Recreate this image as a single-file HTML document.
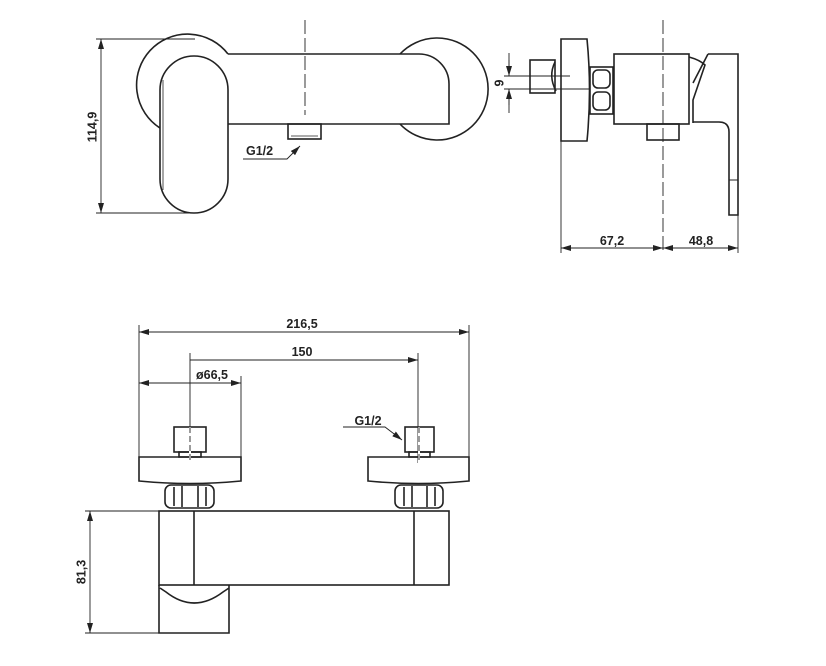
<!DOCTYPE html>
<html><head><style>html,body{margin:0;padding:0;background:#fff}svg{display:block}</style></head>
<body>
<svg width="826" height="666" viewBox="0 0 826 666" xmlns="http://www.w3.org/2000/svg" font-family="Liberation Sans, sans-serif">
<defs>
<marker id="a" viewBox="0 0 10 6" refX="10" refY="3" markerWidth="10" markerHeight="6" orient="auto-start-reverse" markerUnits="userSpaceOnUse"><path d="M0,0 L10,3 L0,6 z" fill="#222"/></marker>
</defs>
<g fill="none" stroke="#222" stroke-width="1.6">
<path d="M228,54 A51,51 0 1 0 160,128"/>
<path d="M400,54 A51,51 0 1 1 400,124"/>
<path d="M228,54 H419 A30,30 0 0 1 449,84 V124 H228" fill="#fff"/>
<rect x="160" y="56" width="68" height="157" rx="34" fill="#fff"/>
<path d="M163,80 V190" stroke-width="0.8"/>
<rect x="288" y="124" width="33" height="15"/>
<path d="M291,136 H318" stroke-width="0.8"/>
</g>
<g stroke="#222" stroke-width="0.9" fill="none">
<path d="M305,20 V115" stroke-dasharray="14,4"/>
<path d="M101,39 V213" marker-start="url(#a)" marker-end="url(#a)"/>
<path d="M96,39 H195 M96,213 H195"/>
<path d="M243,159 H287 L300,146" marker-end="url(#a)"/>
</g>
<text x="93" y="127" font-size="12.5" font-weight="bold" text-anchor="middle" transform="rotate(-90 93 127)" fill="#222" dominant-baseline="middle">114,9</text>
<text x="246" y="155" font-size="12.5" font-weight="bold" fill="#222">G1/2</text>

<g fill="none" stroke="#222" stroke-width="1.6">
<path d="M561,39 H587 Q592,90 587,141 H561 Z"/>
<rect x="530" y="60" width="25" height="33"/>
<path d="M555,62 Q548,76 556,91"/>
<rect x="590" y="67" width="23" height="47"/>
<rect x="593" y="70" width="17" height="18" rx="5"/>
<rect x="593" y="92" width="17" height="18" rx="5"/>
<rect x="614" y="54" width="75" height="70"/>
<rect x="647" y="124" width="32" height="16"/>
<path d="M689,57 Q700,60 705,65 L693,100 V123 M708,54 L693,83"/>
<path d="M708,54 H738 V215 H729 V132 Q729,122 719,122 H693"/>
<path d="M729,180 H738" stroke-width="1"/>
</g>
<g stroke="#222" stroke-width="0.9" fill="none">
<path d="M663,20 V252" stroke-dasharray="14,4"/>
<path d="M509,53 V76 M509,89 V113" />
<path d="M509,60 V76" marker-end="url(#a)"/>
<path d="M509,105 V89" marker-end="url(#a)"/>
<path d="M504,76 H570 M504,89 H590"/>
<path d="M561,141 V253 M738,215 V253"/>
<path d="M561,248 H663" marker-start="url(#a)" marker-end="url(#a)"/>
<path d="M663,248 H738" marker-start="url(#a)" marker-end="url(#a)"/>
</g>
<text x="500" y="83" font-size="12.5" font-weight="bold" text-anchor="middle" transform="rotate(-90 500 83)" fill="#222" dominant-baseline="middle">9</text>
<text x="612" y="245" font-size="12.5" font-weight="bold" text-anchor="middle" fill="#222">67,2</text>
<text x="701" y="245" font-size="12.5" font-weight="bold" text-anchor="middle" fill="#222">48,8</text>

<g fill="none" stroke="#222" stroke-width="1.6">
<path d="M139,457 H241 V481 Q190,486 139,481 Z"/>
<path d="M368,457 H469 V481 Q418,486 368,481 Z"/>
<rect x="174" y="427" width="32" height="25"/>
<rect x="179" y="452" width="22" height="5"/>
<rect x="405" y="427" width="29" height="25"/>
<rect x="409" y="452" width="21" height="5"/>
<rect x="165" y="485" width="49" height="23" rx="6"/>
<path d="M174,487 V506 M182,486 V507 M198,486 V507 M206,487 V506"/>
<rect x="395" y="485" width="48" height="23" rx="6"/>
<path d="M404,487 V506 M412,486 V507 M427,486 V507 M435,487 V506"/>
<rect x="159" y="511" width="290" height="74" fill="#fff"/>
<path d="M194,511 V585 M414,511 V585"/>
<path d="M160,588 Q163,590 166,592 Q194,614 223,592 Q226,590 229,588 M159,585 V633 H229 V585"/>
</g>
<g stroke="#222" stroke-width="0.9" fill="none">
<path d="M139,325 V457 M469,325 V457 M190,353 V463 M418,353 V463 M241,376 V457"/>
<path d="M190,427 V463 M419,427 V463" stroke="#fff" stroke-width="2"/>
<path d="M190,427 V463 M419,427 V463" stroke-dasharray="6,3"/>
<path d="M139,332 H469" marker-start="url(#a)" marker-end="url(#a)"/>
<path d="M190,360 H418" marker-end="url(#a)"/>
<path d="M139,383 H241" marker-start="url(#a)" marker-end="url(#a)"/>
<path d="M343,427 H385 L402,440" marker-end="url(#a)"/>
<path d="M85,511 H159 M85,633 H229"/>
<path d="M90,511 V633" marker-start="url(#a)" marker-end="url(#a)"/>
</g>
<text x="302" y="328" font-size="12.5" font-weight="bold" text-anchor="middle" fill="#222">216,5</text>
<text x="302" y="356" font-size="12.5" font-weight="bold" text-anchor="middle" fill="#222">150</text>
<text x="212" y="379" font-size="12.5" font-weight="bold" text-anchor="middle" fill="#222">ø66,5</text>
<text x="368" y="425" font-size="12.5" font-weight="bold" text-anchor="middle" fill="#222">G1/2</text>
<text x="82" y="572" font-size="12.5" font-weight="bold" text-anchor="middle" transform="rotate(-90 82 572)" fill="#222" dominant-baseline="middle">81,3</text>
</svg>
</body></html>
